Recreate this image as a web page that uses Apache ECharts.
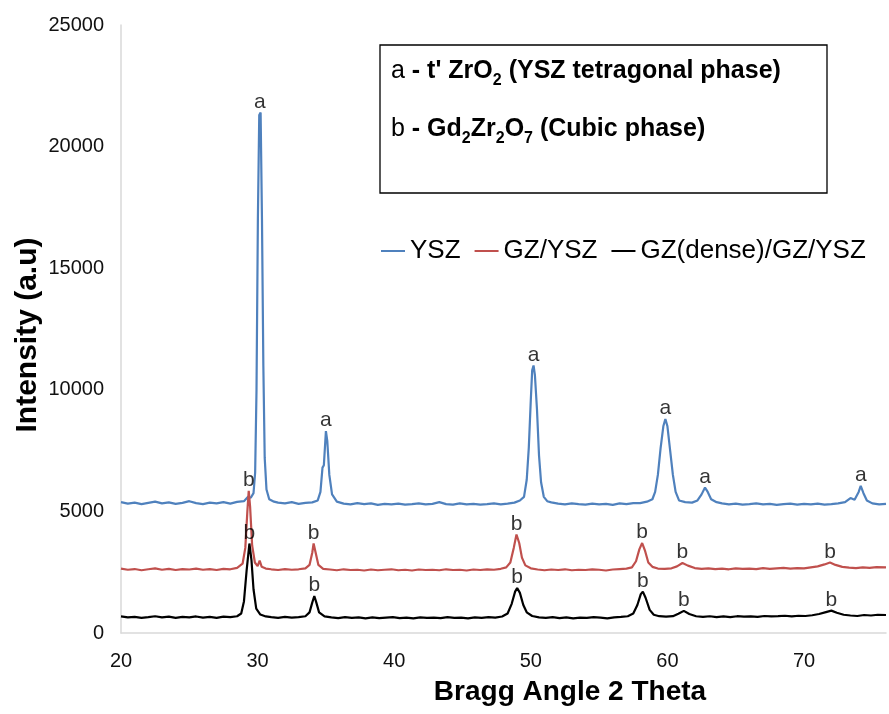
<!DOCTYPE html>
<html>
<head>
<meta charset="utf-8">
<script src="https://cdn.jsdelivr.net/npm/echarts@6/dist/echarts.min.js"></script>
<style>
  html, body { margin: 0; padding: 0; background: #fff; }
  #chart { width: 889px; height: 714px; }
</style>
</head>
<body>
<div id="chart"></div>
<script>
// XRD patterns: [2 theta, intensity]
const ysz = [
  [20,5380],[20.5,5320],[21,5360],[21.5,5300],[22,5350],[22.5,5400],[23,5330],[23.5,5370],[24,5310],[24.5,5350],
  [25,5420],[25.5,5340],[26,5300],[26.5,5360],[27,5330],[27.5,5380],[28,5320],[28.5,5390],[29,5420],[29.3,5600],
  [29.5,5560],[29.7,5750],[29.82,6600],[29.92,10000],[30.02,17000],[30.12,21300],[30.22,21400],[30.32,17000],[30.42,11000],[30.52,7200],
  [30.65,5900],[30.85,5500],[31.2,5400],[31.5,5360],[32,5330],[32.5,5380],[33,5310],[33.5,5350],[34,5370],[34.4,5450],
  [34.6,5800],[34.75,6800],[34.85,6900],[35.0,8300],[35.1,7900],[35.25,6500],[35.45,5700],[35.8,5400],[36.3,5320],[36.8,5290],
  [37.3,5340],[37.8,5300],[38.3,5330],[38.8,5270],[39.3,5310],[39.8,5290],[40.3,5320],[40.8,5280],[41.3,5300],[41.8,5330],
  [42.3,5290],[42.8,5310],[43.3,5380],[43.8,5300],[44.3,5280],[44.8,5330],[45.3,5290],[45.8,5310],[46.3,5280],[46.8,5300],
  [47.3,5330],[47.8,5290],[48.3,5320],[48.8,5360],[49.2,5450],[49.5,5600],[49.7,6300],[49.85,7600],[50.0,9600],[50.1,10800],
  [50.2,11000],[50.3,10600],[50.45,9200],[50.6,7300],[50.75,6200],[50.95,5600],[51.2,5420],[51.5,5370],[52,5320],[52.5,5290],
  [53,5330],[53.5,5300],[54,5280],[54.5,5320],[55,5290],[55.5,5310],[56,5270],[56.5,5330],[57,5300],[57.5,5340],
  [58,5340],[58.5,5400],[58.9,5500],[59.1,5800],[59.3,6500],[59.5,7600],[59.7,8500],[59.85,8800],[60.0,8500],[60.2,7500],
  [60.4,6500],[60.6,5800],[60.85,5450],[61.3,5380],[61.8,5360],[62.2,5450],[62.5,5700],[62.75,5980],[62.95,5800],[63.2,5500],
  [63.6,5380],[64,5330],[64.5,5290],[65,5320],[65.5,5280],[66,5300],[66.5,5330],[67,5290],[67.5,5310],[68,5270],
  [68.5,5300],[69,5320],[69.5,5280],[70,5310],[70.5,5290],[71,5320],[71.5,5280],[72,5300],[72.5,5330],[73,5380],
  [73.4,5550],[73.7,5480],[74.0,5800],[74.15,6050],[74.35,5750],[74.6,5450],[75,5330],[75.5,5290],[76,5310]
];
const gzYsz = [
  [20,2650],[20.5,2600],[21,2630],[21.5,2580],[22,2620],[22.5,2660],[23,2600],[23.5,2640],[24,2590],[24.5,2630],
  [25,2610],[25.5,2650],[26,2600],[26.5,2630],[27,2590],[27.5,2640],[28,2620],[28.5,2680],[28.9,2850],[29.1,3500],
  [29.25,5000],[29.35,5850],[29.45,5200],[29.6,3600],[29.8,2900],[30.0,2750],[30.15,2980],[30.3,2720],[30.6,2650],[31,2620],
  [31.5,2590],[32,2630],[32.5,2600],[33,2620],[33.5,2660],[33.8,2800],[34.0,3300],[34.1,3680],[34.25,3300],[34.45,2800],
  [34.8,2640],[35.3,2610],[35.8,2580],[36.3,2620],[36.8,2590],[37.3,2600],[37.8,2570],[38.3,2610],[38.8,2580],[39.3,2600],
  [39.8,2620],[40.3,2580],[40.8,2600],[41.3,2570],[41.8,2610],[42.3,2590],[42.8,2600],[43.3,2580],[43.8,2620],[44.3,2590],
  [44.8,2600],[45.3,2570],[45.8,2610],[46.3,2590],[46.8,2620],[47.3,2600],[47.8,2640],[48.2,2700],[48.5,2900],[48.75,3500],
  [48.95,4050],[49.15,3700],[49.35,3100],[49.6,2780],[50,2660],[50.5,2610],[51,2580],[51.5,2610],[52,2590],[52.5,2620],
  [53,2580],[53.5,2600],[54,2590],[54.5,2620],[55,2600],[55.5,2570],[56,2610],[56.5,2630],[57,2650],[57.4,2700],
  [57.7,2950],[57.95,3450],[58.15,3700],[58.35,3400],[58.6,2900],[58.9,2720],[59.3,2650],[59.8,2640],[60.3,2660],[60.7,2740],
  [61.1,2880],[61.5,2770],[62,2670],[62.5,2640],[63,2660],[63.5,2630],[64,2650],[64.5,2620],[65,2660],[65.5,2640],
  [66,2650],[66.5,2630],[67,2670],[67.5,2640],[68,2660],[68.5,2680],[69,2650],[69.5,2670],[70,2660],[70.5,2700],
  [71,2740],[71.5,2820],[71.9,2900],[72.3,2800],[72.8,2720],[73.3,2690],[73.8,2670],[74.3,2700],[74.8,2680],[75.3,2710],
  [76,2700]
];
const gzDense = [
  [20,680],[20.5,640],[21,660],[21.5,620],[22,650],[22.5,690],[23,640],[23.5,670],[24,620],[24.5,660],
  [25,640],[25.5,680],[26,630],[26.5,660],[27,620],[27.5,670],[28,650],[28.5,690],[28.8,800],[29.0,1300],
  [29.2,2600],[29.4,3680],[29.55,3000],[29.7,1800],[29.9,1000],[30.2,760],[30.6,680],[31,650],[31.5,620],[32,660],
  [32.5,630],[33,650],[33.5,690],[33.8,850],[34.0,1250],[34.15,1520],[34.3,1250],[34.5,850],[34.9,680],[35.4,640],
  [35.9,610],[36.4,650],[36.9,620],[37.4,640],[37.9,600],[38.4,640],[38.9,610],[39.4,630],[39.9,650],[40.4,610],
  [40.9,630],[41.4,600],[41.9,640],[42.4,620],[42.9,630],[43.4,610],[43.9,650],[44.4,620],[44.9,630],[45.4,600],
  [45.9,640],[46.4,620],[46.9,650],[47.4,630],[47.9,680],[48.3,800],[48.6,1200],[48.85,1700],[49.0,1850],[49.2,1650],
  [49.45,1150],[49.7,850],[50.1,700],[50.6,640],[51.1,620],[51.6,650],[52.1,610],[52.6,640],[53.1,600],[53.6,630],
  [54.1,620],[54.6,650],[55.1,630],[55.6,600],[56.1,640],[56.6,660],[57.1,690],[57.5,800],[57.8,1150],[58.05,1600],
  [58.2,1700],[58.4,1450],[58.7,950],[59.0,750],[59.4,690],[59.9,670],[60.4,690],[60.8,790],[61.2,910],[61.6,780],
  [62.1,690],[62.6,660],[63.1,690],[63.6,650],[64.1,680],[64.6,650],[65.1,690],[65.6,670],[66.1,680],[66.6,660],
  [67.1,700],[67.6,680],[68.1,690],[68.6,710],[69.1,680],[69.6,710],[70.1,700],[70.6,730],[71.1,780],[71.6,860],
  [72.0,920],[72.4,830],[72.9,750],[73.4,720],[73.9,700],[74.4,740],[74.9,720],[75.4,750],[76,740]
];

// peak markers: [2 theta, peak top]
const peaksA = [[30.17,21400],[35.0,8300],[50.2,11000],[59.85,8800],[62.75,5980],[74.15,6050]];
const peaksBRed = [[29.35,5850],[34.1,3680],[48.95,4050],[58.15,3700],[61.1,2880],[71.9,2900]];
const peaksBBlack = [[29.4,3680],[34.15,1520],[49.0,1850],[58.2,1700],[61.2,910],[72.0,920]];

const seriesNames = ['YSZ', 'GZ/YSZ', 'GZ(dense)/GZ/YSZ'];
const seriesColors = ['#4F81BD', '#C0504D', '#000000'];
const xTicks = { min: 20, max: 76, interval: 10 };
const yTicks = { min: 0, max: 25000, interval: 5000 };

const font = 'Liberation Sans, Arial, sans-serif';

let myChart = echarts.init(document.getElementById('chart'));

function lineSeries(name, data, color) {
  return {
    name: name,
    type: 'line',
    data: data,
    symbol: 'none',
    silent: true,
    lineStyle: { width: 2.2, color: color },
    itemStyle: { color: color },
    z: 2
  };
}

function peakLabels(data, letter) {
  return {
    type: 'scatter',
    data: data,
    symbolSize: 0,
    silent: true,
    label: {
      show: true,
      position: 'top',
      distance: 0,
      formatter: letter,
      fontFamily: font,
      fontSize: 21,
      color: '#000'
    },
    z: 3
  };
}

myChart.setOption({
  animation: false,
  textStyle: { fontFamily: font },
  grid: { left: 121, right: 0, top: 25, bottom: 81 },
  legend: {
    data: seriesNames,
    left: 376,
    top: 233,
    icon: 'rect',
    itemWidth: 24,
    itemHeight: 2,
    itemGap: 14,
    textStyle: { fontFamily: font, fontSize: 26, color: '#000' }
  },
  xAxis: {
    type: 'value',
    min: xTicks.min,
    max: xTicks.max,
    interval: xTicks.interval,
    axisLine: { show: true, lineStyle: { color: '#D9D9D9', width: 1.5 } },
    axisTick: { show: false },
    splitLine: { show: false },
    axisLabel: {
      fontFamily: font, fontSize: 20, color: '#111', margin: 18,
      formatter: function (v) { return v > 75 ? '' : String(v); }
    }
  },
  yAxis: {
    type: 'value',
    min: yTicks.min,
    max: yTicks.max,
    interval: yTicks.interval,
    axisLine: { show: true, lineStyle: { color: '#D9D9D9', width: 1.5 } },
    axisTick: { show: false },
    splitLine: { show: false },
    axisLabel: {
      fontFamily: font, fontSize: 20, color: '#111', margin: 17,
      formatter: function (v) { return String(v); }
    }
  },
  series: [
    lineSeries(seriesNames[0], ysz, seriesColors[0]),
    lineSeries(seriesNames[1], gzYsz, seriesColors[1]),
    lineSeries(seriesNames[2], gzDense, seriesColors[2]),
    peakLabels(peaksA, 'a'),
    peakLabels(peaksBRed, 'b'),
    peakLabels(peaksBBlack, 'b')
  ],
  graphic: [
    {
      type: 'rect',
      shape: { x: 380, y: 45, width: 447, height: 148 },
      style: { fill: '#fff', stroke: '#000', lineWidth: 1.3 },
      z: 10
    },
    {
      type: 'text',
      left: 391,
      top: 59,
      z: 11,
      style: {
        text: '{n|a }{b|- t\' ZrO}{s|2}{b| (YSZ tetragonal phase)}',
        rich: {
          n: { fontFamily: font, fontSize: 25, color: '#000', lineHeight: 30, verticalAlign: 'top' },
          b: { fontFamily: font, fontSize: 25, fontWeight: 'bold', color: '#000', lineHeight: 30, verticalAlign: 'top' },
          s: { fontFamily: font, fontSize: 16, fontWeight: 'bold', color: '#000', lineHeight: 15, verticalAlign: 'bottom' }
        }
      }
    },
    {
      type: 'text',
      left: 391,
      top: 117,
      z: 11,
      style: {
        text: '{n|b }{b|- Gd}{s|2}{b|Zr}{s|2}{b|O}{s|7}{b| (Cubic phase)}',
        rich: {
          n: { fontFamily: font, fontSize: 25, color: '#000', lineHeight: 30, verticalAlign: 'top' },
          b: { fontFamily: font, fontSize: 25, fontWeight: 'bold', color: '#000', lineHeight: 30, verticalAlign: 'top' },
          s: { fontFamily: font, fontSize: 16, fontWeight: 'bold', color: '#000', lineHeight: 15, verticalAlign: 'bottom' }
        }
      }
    },
    {
      type: 'text',
      x: 28,
      y: 335,
      rotation: Math.PI / 2,
      z: 11,
      style: {
        text: 'Intensity (a.u)',
        fontFamily: font,
        fontSize: 30,
        fontWeight: 'bold',
        fill: '#000',
        align: 'center',
        verticalAlign: 'middle'
      }
    },
    {
      type: 'text',
      x: 570,
      y: 692,
      z: 11,
      style: {
        text: 'Bragg Angle 2 Theta',
        fontFamily: font,
        fontSize: 28,
        fontWeight: 'bold',
        fill: '#000',
        align: 'center',
        verticalAlign: 'middle'
      }
    }
  ]
});
</script>
</body>
</html>
